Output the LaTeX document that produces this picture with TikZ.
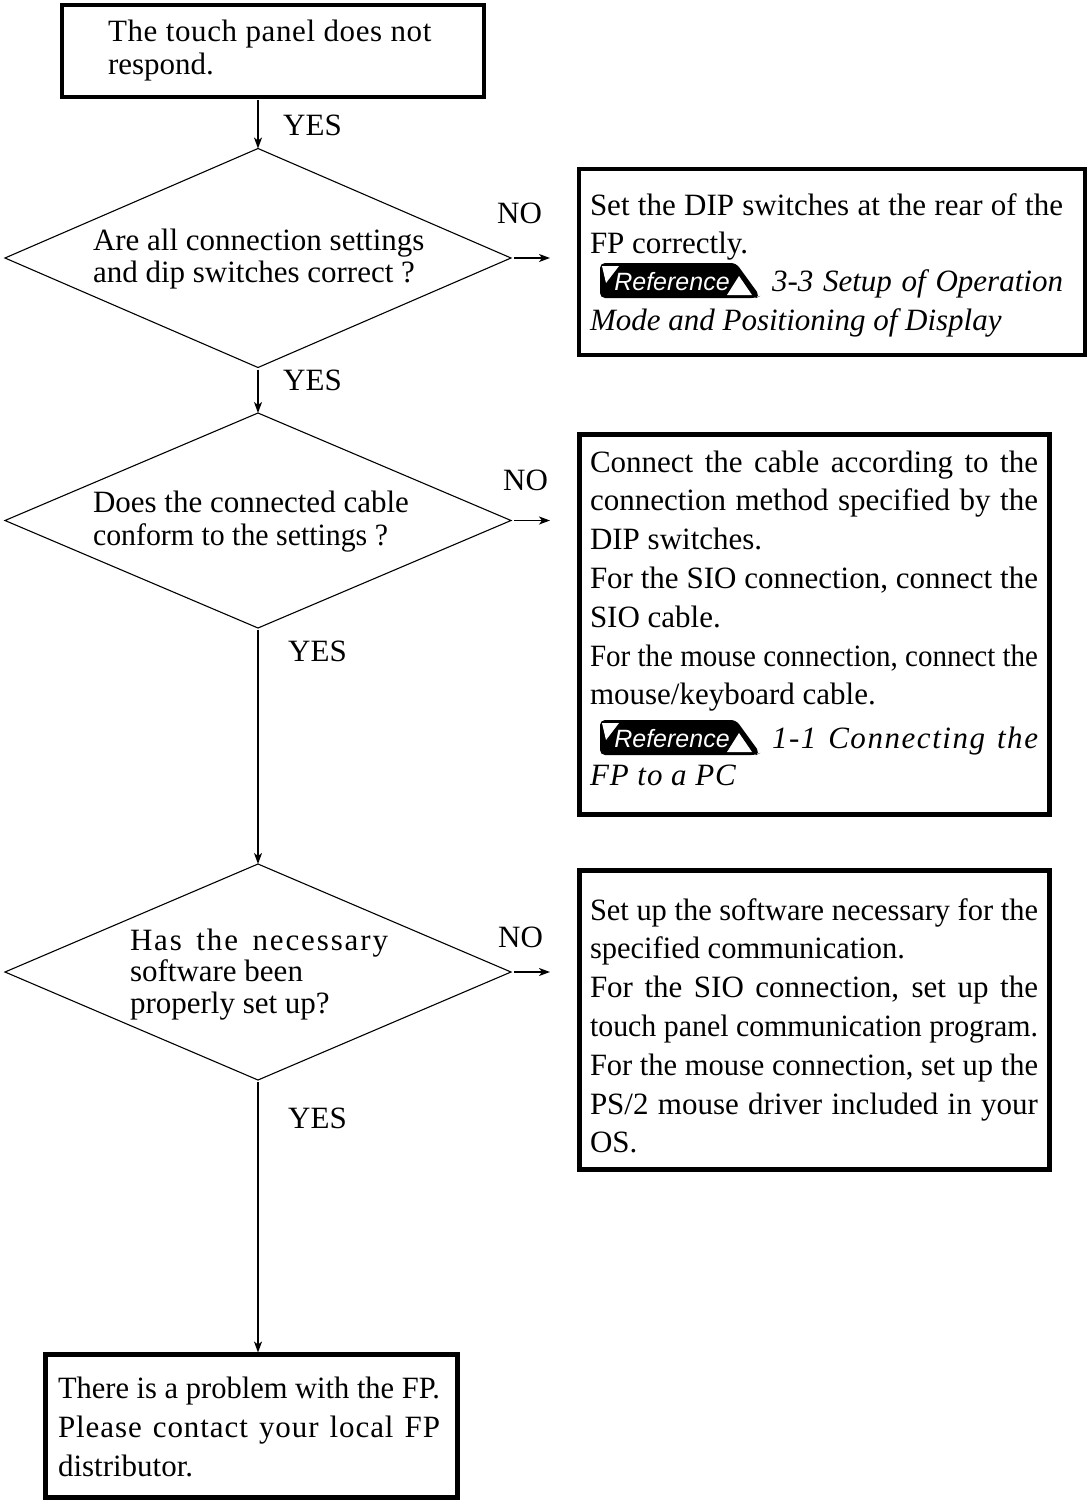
\documentclass[tikz,border=0pt]{standalone}
\usepackage{fontspec}
\setmainfont{Liberation Serif}
\newfontfamily\badgefont{Liberation Sans}
\usepackage{graphicx}
\usetikzlibrary{shapes.geometric,arrows.meta,calc}

\newsavebox\fitbox
\newcommand\fitto[2]{\sbox\fitbox{#2}\ifdim\wd\fitbox>#1\relax\resizebox{#1}{\height}{\usebox\fitbox}\else\makebox[#1][s]{#2}\fi}
\newcommand\tb[3]{\parbox[t]{#1}{\setlength\parskip{0pt}\fontsize{31}{#2}\selectfont #3}}

\tikzset{
  box/.style={draw, line width=4.5pt, inner sep=0pt, outer sep=0pt},
  dia/.style={draw, diamond, line width=1.1pt, inner sep=0pt, outer sep=0pt},
  txt/.style={anchor=base west, inner sep=0pt, outer sep=0pt},
  lbl/.style={anchor=base west, inner sep=0pt, font=\fontsize{31}{31}\selectfont},
  arr/.style={line width=1.6pt, -{Stealth[length=11pt,width=8pt,inset=3pt]}},
  refbadge/.pic={
    \fill[black, rounded corners=5pt] (0,0) -- (136,0) -- (160,33) -- (156,35) -- (0,35) -- cycle;
    \fill[white] (2,3) -- (19,3) -- (6,20) -- cycle;
    \fill[white] (127,32) -- (139,13) -- (152,32) -- cycle;
    \node[anchor=base, inner sep=0pt, text=white, font=\badgefont\itshape\fontsize{25}{25}\selectfont] (-t) at (72,27) {Reference};
  }
}

\begin{document}
\begin{tikzpicture}[x=1pt, y=-1pt]
\fill[white] (0,0) rectangle (1089,1502);
\useasboundingbox (0,0) rectangle (1089,1502);

% boxes
\node[box, line width=4pt, minimum width=422pt, minimum height=92pt] (top) at (273,51) {};
\node[box, minimum width=506pt, minimum height=186pt] (b2) at (832,262) {};
\node[box, minimum width=470pt, minimum height=380pt] (b3) at (814.5,624.5) {};
\node[box, minimum width=470pt, minimum height=299pt] (b4) at (814.5,1020) {};
\node[box, minimum width=412pt, minimum height=143pt] (final) at (251.5,1426) {};

% diamonds
\node[dia, minimum width=506pt, minimum height=219pt] (d1) at (258,258) {};
\node[dia, minimum width=506pt, minimum height=215pt] (d2) at (258,520.5) {};
\node[dia, minimum width=506pt, minimum height=216pt] (d3) at (258,972) {};

% texts
\node[txt] (t0) at (108,41) {\tb{340pt}{33pt}{{\addfontfeature{LetterSpace=2}The touch panel does not}\par respond.}};
\node[txt] (t1) at (93,250) {\tb{340pt}{32pt}{Are all connection settings\par and dip switches correct ?}};
\node[txt] (t2) at (93,512) {\tb{340pt}{33pt}{Does the connected cable\par \fitto{295pt}{conform to the settings ?}}};
\node[txt] (t3) at (130,950) {\tb{260pt}{31.5pt}{\fitto{258pt}{\addfontfeature{LetterSpace=6}Has the necessary}\par software been\par properly set up?}};

\node[txt] (tb2) at (590,215) {\tb{473pt}{38.4pt}{\fitto{\linewidth}{Set the DIP switches at the rear of the}\par
FP correctly.\par
\makebox[\linewidth][r]{\fitto{291pt}{\itshape 3-3 Setup of Operation}}\par
\textit{Mode and Positioning of Display}}};

\node[txt] (tb3) at (590,472) {\tb{448pt}{38.8pt}{\fitto{\linewidth}{Connect the cable according to the}\par
\fitto{\linewidth}{connection method specified by the}\par
DIP switches.\par
\fitto{\linewidth}{For the SIO connection, connect the}\par
SIO cable.\par
\fitto{\linewidth}{For the mouse connection, connect the}\par
mouse/keyboard cable.\par\vspace{4.4pt}
\makebox[\linewidth][r]{\fitto{266pt}{\itshape\addfontfeature{LetterSpace=5}1-1 Connecting the}}\par\vspace{-1.8pt}
\textit{\addfontfeature{LetterSpace=3}FP to a PC}}};

\node[txt] (tb4) at (590,920) {\tb{448pt}{38.8pt}{\fitto{\linewidth}{Set up the software necessary for the}\par
\fitto{315pt}{specified communication.}\par
\fitto{\linewidth}{For the SIO connection, set up the}\par
\fitto{\linewidth}{touch panel communication program.}\par
\fitto{\linewidth}{For the mouse connection, set up the}\par
\fitto{\linewidth}{PS/2 mouse driver included in your}\par
OS.}};

\node[txt] (tb5) at (58,1398) {\tb{382pt}{39pt}{\fitto{\linewidth}{There is a problem with the FP.}\par
\fitto{\linewidth}{\addfontfeature{LetterSpace=3}Please contact your local FP}\par
distributor.}};

% reference badges
\pic (ref2) at (600,263) {refbadge};
\pic (ref3) at (600,720) {refbadge};

% labels
\node[lbl] (yes1) at (283,135) {YES};
\node[lbl] (yes2) at (283,390) {YES};
\node[lbl] (yes3) at (288,661) {YES};
\node[lbl] (yes4) at (288,1128) {YES};
\node[lbl] (no1) at (497,223) {NO};
\node[lbl] (no2) at (503,490) {NO};
\node[lbl] (no3) at (498,947) {NO};

% connector ends
\coordinate (e1) at (550,258);
\coordinate (e2) at (550,520.5);
\coordinate (e3) at (550,972);

% connectors
\draw[arr, shorten <=3pt] (d1.north |- top.south) -- (d1.north);
\draw[arr, shorten <=2pt] (d1.south) -- (d2.north);
\draw[arr, shorten <=2pt] (d2.south) -- (d3.north);
\draw[arr, shorten <=2pt, shorten >=2pt] (d3.south) -- (d3.south |- final.north);
\draw[arr, shorten <=3pt] (d1.east) -- (e1);
\draw[arr, shorten <=3pt] (d2.east) -- (e2);
\draw[arr, shorten <=3pt] (d3.east) -- (e3);
\end{tikzpicture}
\end{document}
